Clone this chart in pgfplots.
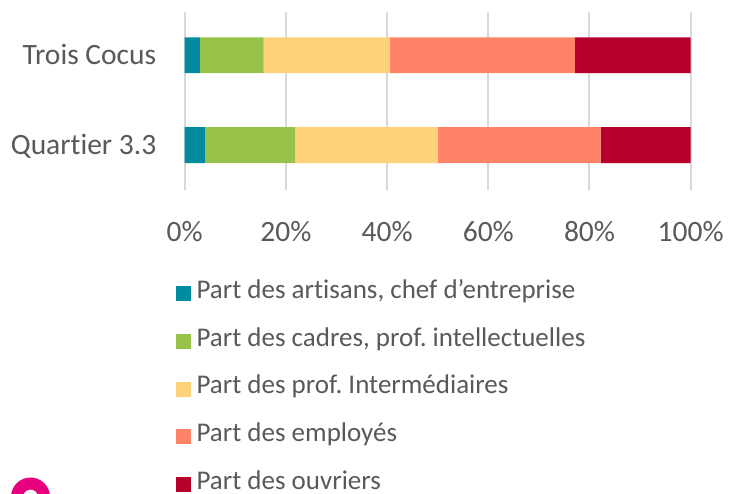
\documentclass[border=0pt]{standalone}
\usepackage{fontspec}
\setmainfont{Carlito}[Ligatures=NoCommon]
\usepackage{pgfplots}
\pgfplotsset{compat=1.18}
\definecolor{cteal}{HTML}{008BA0}
\definecolor{cgreen}{HTML}{97C34A}
\definecolor{cyellow}{HTML}{FFD17B}
\definecolor{corange}{HTML}{FF8368}
\definecolor{cred}{HTML}{B4002A}
\definecolor{ctext}{HTML}{595959}
\definecolor{cgrid}{HTML}{D9D9D9}
\definecolor{cpink}{HTML}{E6007E}
\pgfplotsset{sq legend/.style={legend image code/.code={\fill[##1] (0pt,-4.35pt) rectangle (7.5pt,3.15pt);}}}
\frenchspacing
\begin{document}
\begin{tikzpicture}
\begin{axis}[
  at={(92.35pt,152pt)}, anchor=south west,
  scale only axis, width=253pt, height=89.15pt,
  xbar stacked, bar width=17.9pt,
  xmin=0, xmax=100, ymin=-0.5, ymax=1.486,
  xtick={0,20,40,60,80,100},
  xticklabels={0\%,20\%,40\%,60\%,80\%,100\%},
  ytick={0,1}, yticklabels={Quartier 3.3,Trois Cocus},
  major tick length=0pt,
  axis line style={draw=none},
  xmajorgrids, grid style={cgrid, line width=1pt},
  tick label style={font=\fontsize{14.75pt}{17pt}\selectfont, text=ctext, inner sep=0pt, text height=9.5pt, text depth=0pt},
  xticklabel style={anchor=north, yshift=-15.85pt},
  yticklabel style={anchor=east, xshift=-14pt},
  legend cell align=left,
  legend style={at={(0,0)}, anchor=north west, xshift=-4.35pt, yshift=-45.15pt,
    draw=none, fill=none, inner sep=0pt, outer sep=0pt,
    row sep=11.9pt, column sep=2.8pt,
    font=\fontsize{13.5pt}{16pt}\selectfont, text=ctext,
    nodes={inner sep=0pt, text height=9pt, text depth=3pt}},
]
\addplot[fill=cteal, draw=none, sq legend] coordinates {(4.1,0) (3.0,1)};
\addlegendentry{Part des artisans, chef d’entreprise}
\addplot[fill=cgreen, draw=none, sq legend] coordinates {(17.7,0) (12.6,1)};
\addlegendentry{Part des cadres, prof. intellectuelles}
\addplot[fill=cyellow, draw=none, sq legend] coordinates {(28.2,0) (25.0,1)};
\addlegendentry{Part des prof. Intermédiaires}
\addplot[fill=corange, draw=none, sq legend] coordinates {(32.2,0) (36.5,1)};
\addlegendentry{Part des employés}
\addplot[fill=cred, draw=none, sq legend] coordinates {(17.8,0) (22.9,1)};
\addlegendentry{Part des ouvriers}
\end{axis}
\fill[cpink, even odd rule] (15.25pt,-1.5pt) circle (9.75pt) (15.25pt,-1.5pt) circle (3.75pt);
\pgfresetboundingbox
\useasboundingbox (0,0) rectangle (370.5pt,247pt);
\end{tikzpicture}
\end{document}
